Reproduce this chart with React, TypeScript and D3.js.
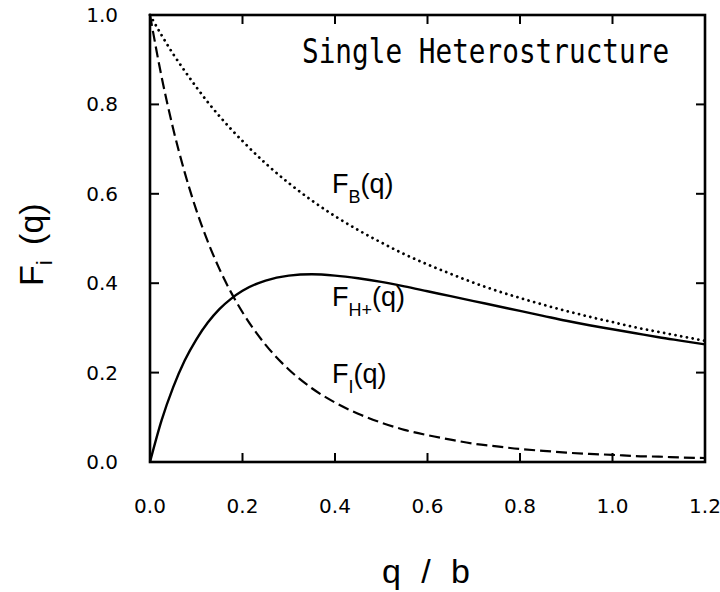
import React from "react";
import * as d3 from "d3";

// q/b sample points and the three form factors
const Q = [0, 0.025, 0.05, 0.075, 0.1, 0.125, 0.15, 0.175, 0.2, 0.25, 0.3, 0.35, 0.4, 0.45, 0.5, 0.55, 0.6, 0.65, 0.7, 0.75, 0.8, 0.85, 0.9, 0.95, 1.0, 1.05, 1.1, 1.15, 1.2];
const F_B = [1.0, 0.955, 0.913, 0.875, 0.839, 0.805, 0.774, 0.745, 0.718, 0.668, 0.624, 0.585, 0.55, 0.519, 0.491, 0.465, 0.442, 0.421, 0.401, 0.383, 0.367, 0.352, 0.338, 0.325, 0.313, 0.301, 0.291, 0.281, 0.271];
const F_HPLUS = [0.0, 0.093, 0.167, 0.227, 0.274, 0.312, 0.342, 0.365, 0.383, 0.406, 0.417, 0.42, 0.417, 0.411, 0.403, 0.393, 0.382, 0.371, 0.36, 0.349, 0.338, 0.327, 0.316, 0.306, 0.297, 0.288, 0.279, 0.271, 0.263];
const F_I = [1.0, 0.862, 0.746, 0.648, 0.564, 0.493, 0.432, 0.38, 0.335, 0.262, 0.207, 0.165, 0.133, 0.108, 0.088, 0.072, 0.06, 0.05, 0.041, 0.035, 0.029, 0.025, 0.021, 0.018, 0.016, 0.013, 0.012, 0.01, 0.009];

const X_TICKS = [0, 0.2, 0.4, 0.6, 0.8, 1.0, 1.2];
const Y_TICKS = [0, 0.2, 0.4, 0.6, 0.8, 1.0];

const W = 720;
const H = 592;
const LEFT = 150;
const RIGHT = 705;
const TOP = 15;
const BOTTOM = 462;
const TICK = 9;

const LABEL_FONT = "'DejaVu Sans', sans-serif";
const TEXT_FONT = "'Liberation Sans', Arial, sans-serif";

export default function App() {
  const x = d3.scaleLinear().domain([0, 1.2]).range([LEFT, RIGHT]);
  const y = d3.scaleLinear().domain([0, 1.0]).range([BOTTOM, TOP]);

  const line = (vals: number[]) =>
    d3
      .line<number>()
      .x((_, i) => x(Q[i]))
      .y((d) => y(d))
      .curve(d3.curveMonotoneX)(vals) || "";

  return (
    <svg
      width={W}
      height={H}
      viewBox={`0 0 ${W} ${H}`}
      style={{ position: "absolute", left: 0, top: 0, background: "#fff" }}
    >
      <rect x={0} y={0} width={W} height={H} fill="#fff" />

      {/* curves */}
      <g fill="none" stroke="#000">
        <path d={line(F_B)} strokeWidth={2.8} strokeDasharray="0.01 5.8" strokeLinecap="round" />
        <path d={line(F_I)} strokeWidth={2.2} strokeDasharray="11 5" />
        <path d={line(F_HPLUS)} strokeWidth={2.4} />
      </g>

      {/* frame */}
      <rect
        x={LEFT}
        y={TOP}
        width={RIGHT - LEFT}
        height={BOTTOM - TOP}
        fill="none"
        stroke="#000"
        strokeWidth={2.6}
      />

      {/* ticks on all four sides, pointing inward */}
      <g stroke="#000" strokeWidth={2}>
        {X_TICKS.map((t) => (
          <g key={`xt${t}`}>
            <line x1={x(t)} x2={x(t)} y1={BOTTOM} y2={BOTTOM - TICK} />
            <line x1={x(t)} x2={x(t)} y1={TOP} y2={TOP + TICK} />
          </g>
        ))}
        {Y_TICKS.map((t) => (
          <g key={`yt${t}`}>
            <line x1={LEFT} x2={LEFT + TICK} y1={y(t)} y2={y(t)} />
            <line x1={RIGHT} x2={RIGHT - TICK} y1={y(t)} y2={y(t)} />
          </g>
        ))}
      </g>

      {/* tick labels */}
      <g fontFamily={LABEL_FONT} fontSize={20} fill="#000">
        {X_TICKS.map((t) => (
          <text key={`xl${t}`} x={x(t)} y={513} textAnchor="middle">
            {t.toFixed(1)}
          </text>
        ))}
        {Y_TICKS.map((t) => (
          <text key={`yl${t}`} x={118} y={y(t)} textAnchor="end" dominantBaseline="central">
            {t.toFixed(1)}
          </text>
        ))}
      </g>

      {/* axis titles */}
      <text
        x={426}
        y={583}
        fontFamily={TEXT_FONT}
        fontSize={34}
        textAnchor="middle"
        textLength={88}
        lengthAdjust="spacing"
      >
        q / b
      </text>
      <text
        transform={`translate(43, 286) rotate(-90)`}
        fontFamily={TEXT_FONT}
        fontSize={34}
      >
        F
        <tspan fontSize={22} dy={9}>i</tspan>
        <tspan dy={-9} dx={6}> (q)</tspan>
      </text>

      {/* panel title */}
      <text
        transform="translate(302, 63) scale(0.84, 1)"
        fontFamily="'DejaVu Sans Mono', monospace"
        fontSize={33}
      >
        Single Heterostructure
      </text>

      {/* curve labels */}
      <g fontFamily={TEXT_FONT} fontSize={27} fill="#000">
        <text x={332} y={193}>
          F<tspan fontSize={18} dy={10}>B</tspan>
          <tspan dy={-10}>(q)</tspan>
        </text>
        <text x={332} y={306}>
          F<tspan fontSize={18} dy={10}>H+</tspan>
          <tspan dy={-10}>(q)</tspan>
        </text>
        <text x={332} y={383}>
          F<tspan fontSize={18} dy={10}>I</tspan>
          <tspan dy={-10}>(q)</tspan>
        </text>
      </g>
    </svg>
  );
}
